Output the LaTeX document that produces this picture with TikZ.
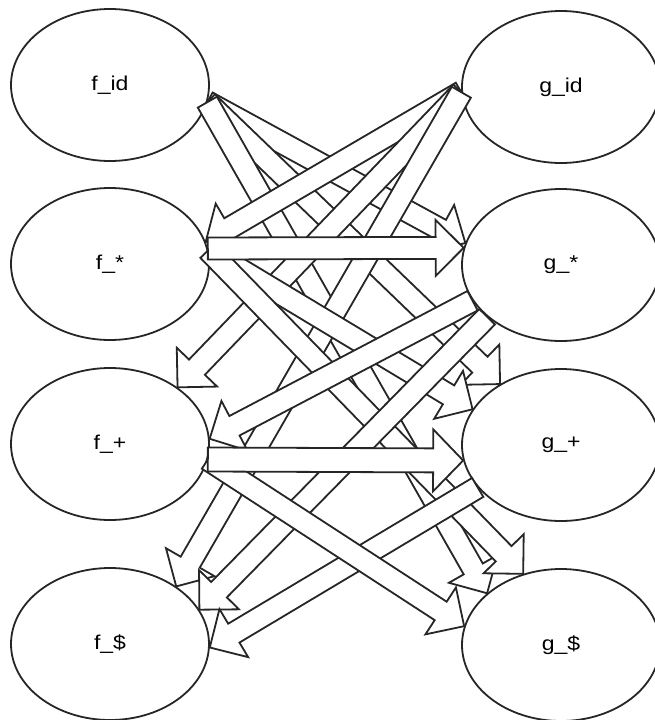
\documentclass[tikz,border=0pt]{standalone}
\usepackage{fontspec}
\setmainfont{Liberation Sans}
\usetikzlibrary{calc,shapes.geometric}

% sizes of the block arrows
\newlength\fashaft \setlength\fashaft{11pt}
\newlength\fahead  \setlength\fahead{28pt}
\newlength\falen   \setlength\falen{28pt}

\tikzset{
  ell/.style={ellipse, draw=black!85, line width=1.8pt, fill=white,
    minimum width=198pt, minimum height=152pt, inner sep=0pt,
    font=\fontsize{20}{24}\selectfont},
  flexbody/.style={draw=black!85, line width=1.8pt, fill=white,
    line join=miter},
}

% block arrow from #1 to #2 (tip at #2)
\newcommand\flexarrow[2]{%
  \coordinate (faA) at (#1);
  \coordinate (faB) at (#2);
  \coordinate (faC) at ($(faB)!\falen!(faA)$);
  \draw[flexbody]
    ($(faA)!\fashaft!90:(faB)$) --
    ($(faC)!\fashaft!-90:(faA)$) --
    ($(faC)!\fahead!-90:(faA)$) --
    (faB) --
    ($(faC)!\fahead!90:(faA)$) --
    ($(faC)!\fashaft!90:(faA)$) --
    ($(faA)!\fashaft!-90:(faB)$) -- cycle;
}

\newcommand\lbl[1]{\scalebox{1.15}[1]{#1}}

\begin{document}
\begin{tikzpicture}[x=1pt,y=-1pt]
\useasboundingbox (0,0) rectangle (655,720);

% function nodes
\node[ell] (fid) at (110,85)  {\lbl{f\_id}};
\node[ell] (gid) at (561,87)  {\lbl{g\_id}};
\node[ell] (fs)  at (110,264) {\lbl{f\_*}};
\node[ell] (gs)  at (561,265) {\lbl{g\_*}};
\node[ell] (fp)  at (110,444) {\lbl{f\_+}};
\node[ell] (gp)  at (561,445) {\lbl{g\_+}};
\node[ell] (fd)  at (110,644) {\lbl{f\_\$}};
\node[ell] (gd)  at (561,645) {\lbl{g\_\$}};

% edges out of f_id
\flexarrow{fid.-10}{gs.167}
\flexarrow{fid.-10}{gp.135}
\flexarrow{fid.-10}{gd.145}
% edges out of g_id
\flexarrow{gid.183}{fs.13}
\flexarrow{gid.183}{fp.40}
\flexarrow{gid.183}{fd.41}
% edges out of f_*
\flexarrow{fs.8}{gp.158}
\flexarrow{fs.8}{gd.118}
\flexarrow{fs.9}{gs.170}
% edges out of g_*
\flexarrow{gs.202}{fp.3}
\flexarrow{gs.215}{fd.21}
% edges out of g_+ and f_+
\flexarrow{gp.207}{fd.-2}
\flexarrow{fp.-9}{gd.169}
\setlength\fashaft{12pt}\setlength\fahead{31pt}\setlength\falen{30pt}
\flexarrow{fp.-9}{gp.189}
\end{tikzpicture}
\end{document}
